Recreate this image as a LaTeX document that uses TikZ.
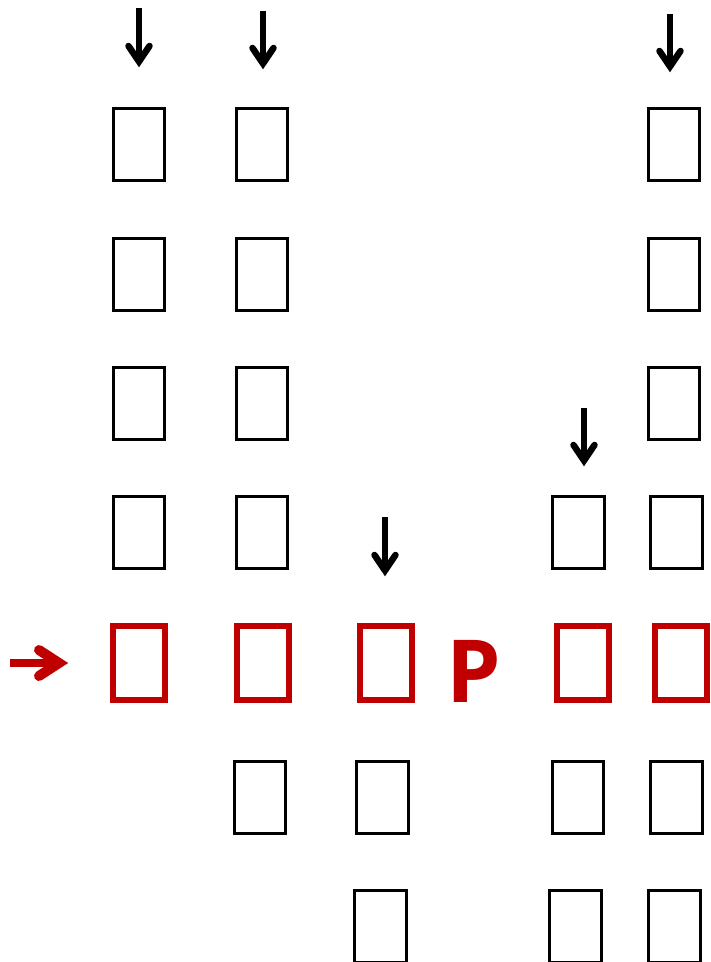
\documentclass[tikz,border=0pt]{standalone}
\usepackage{fontspec}
\newfontfamily\pfont{Open Sans}
\usetikzlibrary{calc}
\definecolor{myred}{HTML}{C00000}
\tikzset{
  tofu/.style={draw, line width=3pt, inner sep=0pt, minimum width=51.5pt, minimum height=72pt},
  redtofu/.style={draw=myred, line width=6pt, inner sep=0pt, minimum width=52pt, minimum height=74pt},
}
\newcommand\downarr[4]{%
  \coordinate (#1s) at (#2,#3);
  \coordinate (#1t) at (#2,#4);
  \draw[line width=5.5pt] (#1s) -- ([shift={(0,-10)}]#1t);
  \draw[line width=6.5pt, line cap=round, line join=miter]
    ([shift={(-10.5,-22)}]#1t) -- ([shift={(0,-6.5)}]#1t) -- ([shift={(10.5,-22)}]#1t);
}
\begin{document}
\begin{tikzpicture}[x=1pt,y=-1pt]
\useasboundingbox (0,0) rectangle (711,962);
% column 1
\node[tofu] (a1) at (139,144.5) {};
\node[tofu] (a2) at (139,274) {};
\node[tofu] (a3) at (139,403) {};
\node[tofu] (a4) at (139,532) {};
\node[redtofu] (a5) at (139,663) {};
% column 2
\node[tofu] (b1) at (262,144.5) {};
\node[tofu] (b2) at (262,274) {};
\node[tofu] (b3) at (262,403) {};
\node[tofu] (b4) at (262,532) {};
\node[redtofu] (b5) at (262.5,663) {};
\node[tofu] (b6) at (260,797) {};
% column 3
\node[redtofu] (c5) at (385.5,663) {};
\node[tofu] (c6) at (382.5,797) {};
\node[tofu] (c7) at (380.5,926.5) {};
% P
\node[anchor=base, inner sep=0pt, text=myred, font=\pfont\bfseries\fontsize{87}{90}\selectfont] (p) at (474,702) {P};
% column 4
\node[tofu] (d4) at (578.5,532) {};
\node[redtofu] (d5) at (583,663) {};
\node[tofu] (d6) at (578,797) {};
\node[tofu] (d7) at (575.5,926.5) {};
% column 5
\node[tofu] (e1) at (674,144.5) {};
\node[tofu] (e2) at (674,274) {};
\node[tofu] (e3) at (674,403) {};
\node[tofu] (e4) at (676.5,532) {};
\node[redtofu] (e5) at (681,663) {};
\node[tofu] (e6) at (676.5,797) {};
\node[tofu] (e7) at (674.5,926.5) {};
% black arrows
\downarr{ar1}{139}{8}{68}
\downarr{ar2}{263}{11}{70}
\downarr{ar3}{385}{517}{577}
\downarr{ar4}{584}{408}{467}
\downarr{ar5}{670}{14}{73}
% red arrow
\coordinate (rs) at (10,663);
\coordinate (rt) at (68,663);
\draw[myred, line width=8pt] (rs) -- ([shift={(-12,0)}]rt);
\draw[myred, line width=10pt, line cap=round, line join=miter]
  ([shift={(-29,-13)}]rt) -- ([shift={(-9,0)}]rt) -- ([shift={(-29,13)}]rt);
\end{tikzpicture}
\end{document}
